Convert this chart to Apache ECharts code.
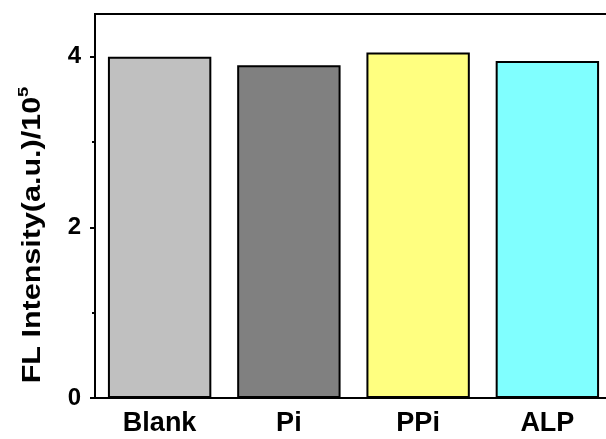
<!DOCTYPE html>
<html>
<head>
<meta charset="utf-8">
<script src="https://cdn.jsdelivr.net/npm/echarts@6/dist/echarts.min.js"></script>
<style>html,body{margin:0;padding:0;background:#fff}#c{width:606px;height:439px}</style>
</head>
<body>
<div id="c"></div>
<script>
var categories = ['Blank', 'Pi', 'PPi', 'ALP'];
var values = [4.0, 3.90, 4.05, 3.95];
var barColors = ['#c0c0c0', '#808080', '#ffff80', '#80ffff'];
var majorTicks = [0, 2, 4];
var minorTicks = [1, 3];
var yTitle = 'FL Intensity(a.u.)/10';
var yTitleSup = '5';

var chart = echarts.init(document.getElementById('c'), null, {renderer: 'canvas'});
var font = '"Liberation Sans", Arial, sans-serif';
chart.setOption({
  animation: false,
  grid: {left: 95, top: 14, width: 517, height: 384, outerBoundsMode: 'none', containLabel: false, show: true, borderColor: '#000', borderWidth: 2, backgroundColor: 'transparent'},
  xAxis: {
    type: 'category',
    data: categories,
    axisLine: {lineStyle: {color: '#000', width: 2}},
    axisTick: {show: false},
    axisLabel: {color: '#000', fontFamily: font, fontWeight: 'bold', fontSize: 27, margin: 12}
  },
  yAxis: [{
    type: 'value',
    min: 0, max: 4.5,
    splitLine: {show: false},
    axisLine: {show: true, lineStyle: {color: '#000', width: 2}},
    axisTick: {show: true, length: 5, lineStyle: {color: '#000', width: 2}, customValues: majorTicks},
    axisLabel: {color: '#000', fontFamily: font, fontWeight: 'bold', fontSize: 24, margin: 14, customValues: majorTicks}
  }, {
    type: 'value',
    min: 0, max: 4.5,
    position: 'left',
    splitLine: {show: false},
    axisLine: {show: false},
    axisTick: {show: true, length: 3, lineStyle: {color: '#000', width: 2}, customValues: minorTicks},
    axisLabel: {show: false, customValues: minorTicks}
  }],
  series: [{
    type: 'bar',
    data: values.map(function (v, i) { return {value: v, itemStyle: {color: barColors[i]}}; }),
    barWidth: '80%',
    itemStyle: {borderColor: '#000', borderWidth: 2}
  }],
  graphic: [{
    type: 'text',
    x: 31, y: 235,
    rotation: Math.PI / 2,
    scaleX: 1.22,
    style: {
      text: '{a|' + yTitle + '}{s|' + yTitleSup + '}',
      align: 'center',
      verticalAlign: 'middle',
      rich: {
        a: {fontFamily: font, fontWeight: 'bold', fontSize: 25, fill: '#000', lineHeight: 30, verticalAlign: 'bottom'},
        s: {fontFamily: font, fontWeight: 'bold', fontSize: 15, fill: '#000', lineHeight: 30, verticalAlign: 'top'}
      }
    }
  }]
});
</script>
</body>
</html>
